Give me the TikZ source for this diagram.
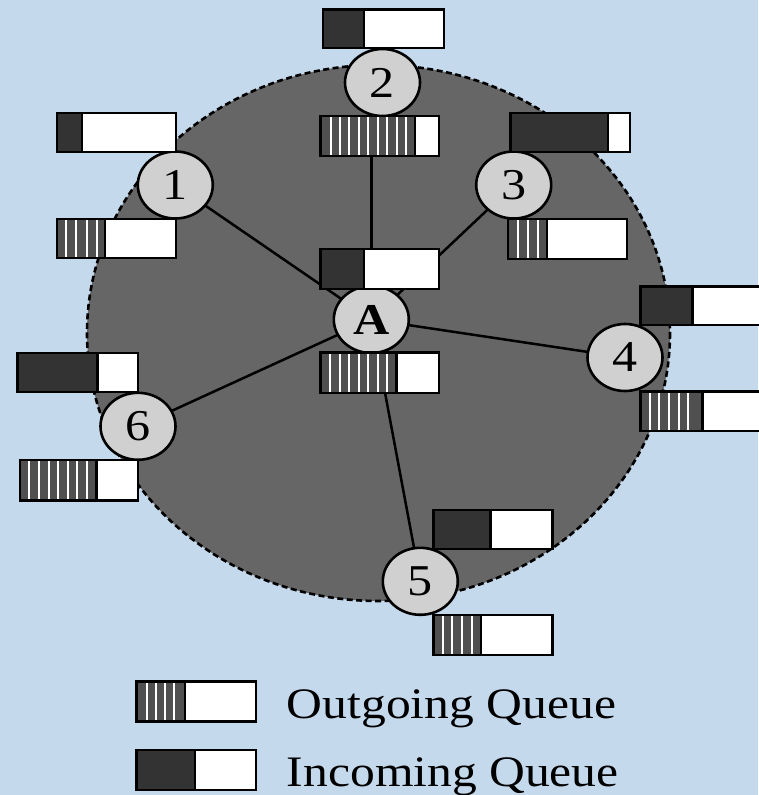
\documentclass[tikz,border=0pt]{standalone}
\usepackage{fontspec}
\setmainfont{Liberation Serif}
\usetikzlibrary{shapes.geometric}
\definecolor{bgblue}{HTML}{C4D9EC}
\definecolor{diskgray}{HTML}{666666}
\definecolor{incol}{HTML}{333333}
\definecolor{outcol}{HTML}{505050}
\definecolor{nodegray}{HTML}{D0D0D0}
\tikzset{
  boxline/.style={draw=black, line width=2.8pt},
  stripe/.style={draw=white, line width=2.2pt},
  peer/.style={ellipse, draw=black, line width=2.6pt, fill=nodegray,
    minimum width=75pt, minimum height=67pt, inner sep=0pt,
    font=\fontsize{44}{50}\selectfont},
  link/.style={draw=black, line width=2.5pt},
  legendtext/.style={anchor=base west, inner sep=0pt,
    font=\fontsize{43.5}{50}\selectfont}
}
% incoming queue: left, top, right, bottom, split
\newcommand{\qin}[5]{%
  \fill[incol] (#1,#2) rectangle (#5,#4);
  \fill[white] (#5,#2) rectangle (#3,#4);
  \draw[boxline] (#5,#2) -- (#5,#4);
  \draw[boxline] (#1,#2) rectangle (#3,#4);
}
% outgoing queue: left, top, right, bottom, split, stripe list
\newcommand{\qout}[6]{%
  \fill[outcol] (#1,#2) rectangle (#5,#4);
  \fill[white] (#5,#2) rectangle (#3,#4);
  \foreach \s in {#6} {\draw[stripe] (\s,#2) -- (\s,#4);}
  \draw[boxline] (#5,#2) -- (#5,#4);
  \draw[boxline] (#1,#2) rectangle (#3,#4);
}
\pgfdeclarelayer{bg}
\pgfsetlayers{bg,main}
\begin{document}
\begin{tikzpicture}[x=1pt,y=-1pt]
\useasboundingbox (0,0) rectangle (758,795);

% peers
\node[peer] (n1) at (175.3,185) {\scalebox{1.14}[1]{1}};
\node[peer] (n2) at (382.5,82.5) {\scalebox{1.14}[1]{2}};
\node[peer] (n3) at (513.7,185) {\scalebox{1.14}[1]{3}};
\node[peer] (nA) at (371.3,319.5) {\scalebox{1.14}[1]{\textbf{A}}};
\node[peer] (n4) at (625,357.5) {\scalebox{1.14}[1]{4}};
\node[peer] (n5) at (420.3,581.3) {\scalebox{1.14}[1]{5}};
\node[peer] (n6) at (138,426.3) {\scalebox{1.14}[1]{6}};

\begin{pgfonlayer}{bg}
  \fill[bgblue] (0,0) rectangle (758,795);
  \draw[fill=diskgray, draw=black, line width=2.6pt, dash pattern=on 6pt off 3.5pt]
    (378.5,333) ellipse [x radius=291.5, y radius=268];
  \draw[link] (nA.center) -- (n1.center);
  \draw[link] (nA.center) -- (nA.center |- n2.center);
  \draw[link] (nA.center) -- (n3.center);
  \draw[link] (nA.center) -- (n4.center);
  \draw[link] (nA.center) -- (n5.center);
  \draw[link] (nA.center) -- (n6.center);
\end{pgfonlayer}

% node 1
\qin{57}{113}{176}{152}{82}
\qout{57}{219}{176}{258}{105}{66,76,86.7,96.7}
% node 2
\qin{323}{9.5}{444}{48}{364}
\qout{320.7}{116}{439}{156}{415}{330.7,340,349.3,359,368.3,377.7,387.3,396.7,406}
% node 3
\qin{510.7}{113}{630}{152}{608}
\qout{508}{219}{627}{259}{547}{518.3,528.3,538.3}
% node A
\qin{320.7}{249}{439}{289}{364}
\qout{320.7}{352.7}{439}{393}{396.7}{330,340,349.3,358.7,368.3,377.7,387.3}
% node 4
\qin{640.7}{286.7}{760}{325}{692.7}
\qout{640.7}{391.7}{760}{431}{702.7}{650,659.3,669,678.7,688.3}
% node 6
\qin{17.3}{353}{138}{392}{97.7}
\qout{20}{460}{138}{500.7}{96.7}{29.3,39.3,49.3,58.3,68,77.3,87.3}
% node 5
\qin{433.3}{510}{552.7}{549}{490.7}
\qout{433.3}{615}{552.7}{655}{481}{442.7,452.3,462.3,471.7}

% legend
\qout{136.7}{681.7}{256}{721.7}{185}{146.7,156,165,174.3}
\qin{136.7}{750}{256}{790}{195}
\node[legendtext] (lout) at (286.7,718.3) {\scalebox{1.14}[1]{Outgoing Queue}};
\node[legendtext] (lin) at (286.7,786) {\scalebox{1.14}[1]{Incoming Queue}};
\end{tikzpicture}
\end{document}
